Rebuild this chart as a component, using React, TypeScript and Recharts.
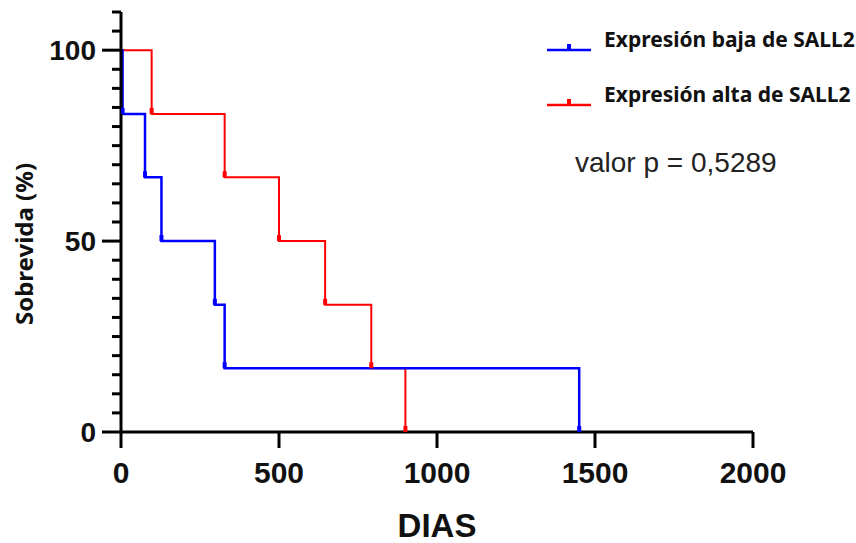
import { ComposedChart, Line, XAxis, YAxis, Legend } from "recharts";

// Kaplan-Meier steps (days, survival %)
const lowDays = [0, 5, 76, 128, 297, 328, 1450];
const lowSurv = [100, 83.3, 66.7, 50, 33.3, 16.7, 0];
const highDays = [0, 97, 328, 500, 646, 792, 900];
const highSurv = [100, 83.3, 66.7, 50, 33.3, 16.7, 0];

const xTicks = [0, 500, 1000, 1500, 2000];
const yTicks = [0, 5, 10, 15, 20, 25, 30, 35, 40, 45, 50, 55, 60, 65, 70, 75, 80, 85, 90, 95, 100, 105, 110];
const yLabels = [0, 50, 100];

const lowName = "Expresión baja de SALL2";
const highName = "Expresión alta de SALL2";
const pValue = "valor p = 0,5289";

const lowData = lowDays.map((t, i) => ({ t, s: lowSurv[i] }));
const highData = highDays.map((t, i) => ({ t, s: highSurv[i] }));

const BLUE = "#0000ff";
const RED = "#ff0000";
const AXIS_FONT = "'Liberation Sans', Arial, sans-serif";

// eslint-disable-next-line @typescript-eslint/no-explicit-any
function YTick({ x, y, payload }: any) {
  const major = yLabels.includes(payload.value);
  return (
    <g>
      <line x1={x - (major ? 19 : 9)} x2={x} y1={y} y2={y} stroke="#000" strokeWidth={3} />
      {major && (
        <text
          x={x - 25}
          y={y}
          dy={10}
          textAnchor="end"
          fontFamily={AXIS_FONT}
          fontWeight={700}
          fontSize={28}
          fill="#111"
        >
          {payload.value}
        </text>
      )}
    </g>
  );
}

// small tick at the foot of every drop
// eslint-disable-next-line @typescript-eslint/no-explicit-any
function StepMark({ cx, cy, index, stroke }: any) {
  if (index === 0 || cx == null) return <g />;
  return <rect x={cx - 2} y={cy - 6} width={4} height={6} fill={stroke} />;
}

// eslint-disable-next-line @typescript-eslint/no-explicit-any
function LegendBox({ payload }: any) {
  const items = [...(payload ?? [])].reverse();
  return (
    <div style={{ fontFamily: "'Noto Sans', sans-serif", fontWeight: 700, fontSize: 21, color: "#111" }}>
      {items.map((entry: any) => (
        <div key={entry.value} style={{ display: "flex", alignItems: "center", height: 28, marginBottom: 27 }}>
          <svg width={60} height={28}>
            <line x1={3} x2={47} y1={25} y2={25} stroke={entry.color} strokeWidth={2.5} />
            <rect x={23} y={19} width={4} height={6} fill={entry.color} />
          </svg>
          <span style={{ lineHeight: "28px" }}>{entry.value}</span>
        </div>
      ))}
    </div>
  );
}

export default function App() {
  return (
    <div style={{ position: "absolute", left: 0, top: 0, width: 856, height: 543, background: "#fff" }}>
      <ComposedChart width={856} height={543} margin={{ top: 12, right: 103, bottom: 0, left: 21 }}>
        <XAxis
          dataKey="t"
          type="number"
          domain={[0, 2000]}
          ticks={xTicks}
          interval={0}
          height={111}
          axisLine={{ stroke: "#000", strokeWidth: 3 }}
          tickLine={{ stroke: "#000", strokeWidth: 3 }}
          tickSize={16}
          tickMargin={14}
          tick={{ fontSize: 30, fontWeight: 700, fill: "#111", fontFamily: AXIS_FONT }}
          allowDataOverflow
        />
        <YAxis
          type="number"
          domain={[0, 110]}
          ticks={yTicks}
          interval={0}
          width={100}
          axisLine={{ stroke: "#000", strokeWidth: 3 }}
          tickLine={false}
          tickSize={0}
          tickMargin={0}
          tick={<YTick />}
          allowDataOverflow
        />
        <Legend
          layout="vertical"
          align="center"
          verticalAlign="middle"
          content={<LegendBox />}
          wrapperStyle={{ position: "absolute", left: 544, top: 25, width: 312, height: 110 }}
        />
        <Line
          data={highData}
          dataKey="s"
          name={highName}
          type="stepAfter"
          stroke={RED}
          strokeWidth={2}
          dot={<StepMark />}
          activeDot={false}
          isAnimationActive={false}
        />
        <Line
          data={lowData}
          dataKey="s"
          name={lowName}
          type="stepAfter"
          stroke={BLUE}
          strokeWidth={2.5}
          dot={<StepMark />}
          activeDot={false}
          isAnimationActive={false}
        />
        <text
          x={23}
          y={244}
          transform="rotate(-90 23 244)"
          textAnchor="middle"
          dominantBaseline="central"
          fontFamily="'Noto Sans', sans-serif"
          fontWeight={700}
          fontSize={24}
          fill="#111"
        >
          Sobrevida (%)
        </text>
        <text x={437} y={537} textAnchor="middle" fontFamily={AXIS_FONT} fontWeight={700} fontSize={33} fill="#111">
          DIAS
        </text>
        <text x={575} y={172} fontFamily={AXIS_FONT} fontSize={28} fill="#222">
          {pValue}
        </text>
      </ComposedChart>
    </div>
  );
}
